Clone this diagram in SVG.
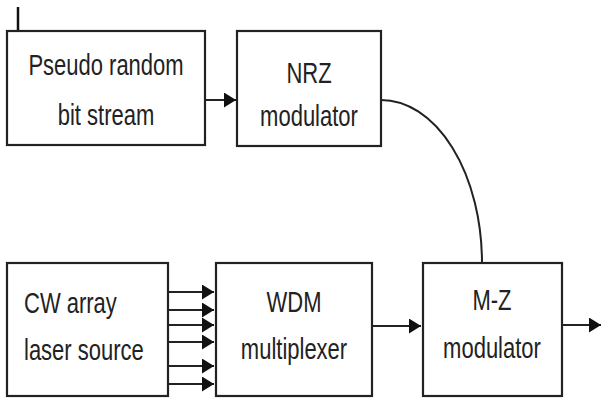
<svg xmlns="http://www.w3.org/2000/svg" width="601" height="401" viewBox="0 0 601 401">
  <style>
    .box { fill: #ffffff; stroke: #222222; stroke-width: 2.2; }
    .wire { fill: none; stroke: #222222; stroke-width: 2; }
    .label { font-family: "Liberation Sans", Arial, sans-serif; font-size: 22px; fill: #222222; }
    .mid { text-anchor: middle; }
  </style>
  <defs>
    <marker id="head" markerUnits="userSpaceOnUse" markerWidth="13" markerHeight="16" refX="12" refY="7.5" orient="auto">
      <path d="M0,0 L12,7.5 L0,15 Z" fill="#111111"/>
    </marker>
  </defs>

  <rect width="601" height="401" fill="#ffffff"/>

  <!-- short tick above the first block -->
  <line x1="18" y1="7" x2="18" y2="31" stroke="#111111" stroke-width="2.5"/>

  <g id="prbs">
    <rect class="box" x="7" y="31" width="198" height="114"/>
    <text class="label mid" transform="translate(106,75) scale(1,1.3)">Pseudo random</text>
    <text class="label mid" transform="translate(106,125) scale(1,1.3)">bit stream</text>
  </g>

  <g id="nrz">
    <rect class="box" x="237" y="31" width="144" height="115"/>
    <text class="label mid" transform="translate(309,83) scale(1,1.3)">NRZ</text>
    <text class="label mid" transform="translate(309,126) scale(1,1.3)">modulator</text>
  </g>

  <g id="cw">
    <rect class="box" x="7" y="263" width="161" height="133"/>
    <text class="label" transform="translate(24,313) scale(1,1.3)">CW array</text>
    <text class="label" transform="translate(24,360) scale(1,1.3)">laser source</text>
  </g>

  <g id="wdm">
    <rect class="box" x="216" y="263" width="156" height="133"/>
    <text class="label mid" transform="translate(294,312) scale(1,1.3)">WDM</text>
    <text class="label mid" transform="translate(294,359) scale(1,1.3)">multiplexer</text>
  </g>

  <g id="mz">
    <rect class="box" x="423" y="263" width="139" height="133"/>
    <text class="label mid" transform="translate(492,310) scale(1,1.3)">M-Z</text>
    <text class="label mid" transform="translate(492,358) scale(1,1.3)">modulator</text>
  </g>

  <g id="connectors">
    <line class="wire" x1="205" y1="100" x2="236" y2="100" marker-end="url(#head)"/>
    <path class="wire" d="M381,100 A101,163 0 0 1 482,263"/>
    <line class="wire" x1="168" y1="292" x2="214" y2="292" marker-end="url(#head)"/>
    <line class="wire" x1="168" y1="310" x2="214" y2="310" marker-end="url(#head)"/>
    <line class="wire" x1="168" y1="325" x2="214" y2="325" marker-end="url(#head)"/>
    <line class="wire" x1="168" y1="342" x2="214" y2="342" marker-end="url(#head)"/>
    <line class="wire" x1="168" y1="366" x2="214" y2="366" marker-end="url(#head)"/>
    <line class="wire" x1="168" y1="384" x2="214" y2="384" marker-end="url(#head)"/>
    <line class="wire" x1="372" y1="326" x2="421" y2="326" marker-end="url(#head)"/>
    <line class="wire" x1="562" y1="325" x2="601" y2="325" marker-end="url(#head)"/>
  </g>
</svg>
